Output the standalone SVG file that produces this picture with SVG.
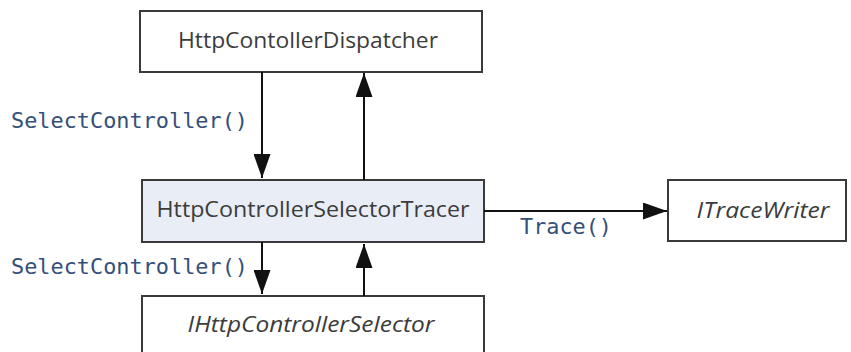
<svg xmlns="http://www.w3.org/2000/svg" width="851" height="352" viewBox="0 0 851 352">
  <style>
    .box { fill: #ffffff; stroke: #3a3a3a; stroke-width: 2; }
    .box.tracer { fill: #e9edf5; }
    .name { font-family: "Open Sans", "Liberation Sans", sans-serif; font-size: 21px; fill: #3c3c3c; text-anchor: middle; }
    .iface { font-style: italic; }
    .call { font-family: "DejaVu Sans Mono", "Liberation Mono", monospace; font-size: 21px; fill: #34507a; }
    .edge { stroke: #111111; stroke-width: 2; fill: none; marker-end: url(#head); }
  </style>
  <defs>
    <marker id="head" markerUnits="userSpaceOnUse" markerWidth="24" markerHeight="17" refX="24" refY="8.5" orient="auto">
      <path d="M0,0 L24,8.5 L0,17 Z" fill="#111111"/>
    </marker>
  </defs>
  <rect width="851" height="352" fill="#ffffff"/>

  <g id="dispatcher">
    <rect class="box" x="140" y="11" width="342" height="61"/>
    <text class="name" x="308" y="48" textLength="260" lengthAdjust="spacingAndGlyphs">HttpContollerDispatcher</text>
  </g>

  <g id="selector-tracer">
    <rect class="box tracer" x="142" y="180" width="342" height="62"/>
    <text class="name" x="313" y="217" textLength="313" lengthAdjust="spacingAndGlyphs">HttpControllerSelectorTracer</text>
  </g>

  <g id="trace-writer">
    <rect class="box" x="668" y="180" width="178" height="61"/>
    <text class="name iface" x="763" y="218" textLength="133" lengthAdjust="spacingAndGlyphs">ITraceWriter</text>
  </g>

  <g id="controller-selector">
    <rect class="box" x="142" y="296" width="342" height="70"/>
    <text class="name iface" x="311" y="332" textLength="247" lengthAdjust="spacingAndGlyphs">IHttpControllerSelector</text>
  </g>

  <g id="connectors">
    <line class="edge" x1="262" y1="72" x2="262" y2="178"/>
    <line class="edge" x1="364" y1="180" x2="364" y2="73"/>
    <line class="edge" x1="262" y1="242" x2="262" y2="294"/>
    <line class="edge" x1="364" y1="296" x2="364" y2="244"/>
    <line class="edge" x1="484" y1="211" x2="667" y2="211"/>
    <text class="call" x="11" y="128" textLength="237" lengthAdjust="spacingAndGlyphs">SelectController()</text>
    <text class="call" x="11" y="274" textLength="237" lengthAdjust="spacingAndGlyphs">SelectController()</text>
    <text class="call" x="520" y="234" textLength="92" lengthAdjust="spacingAndGlyphs">Trace()</text>
  </g>
</svg>
